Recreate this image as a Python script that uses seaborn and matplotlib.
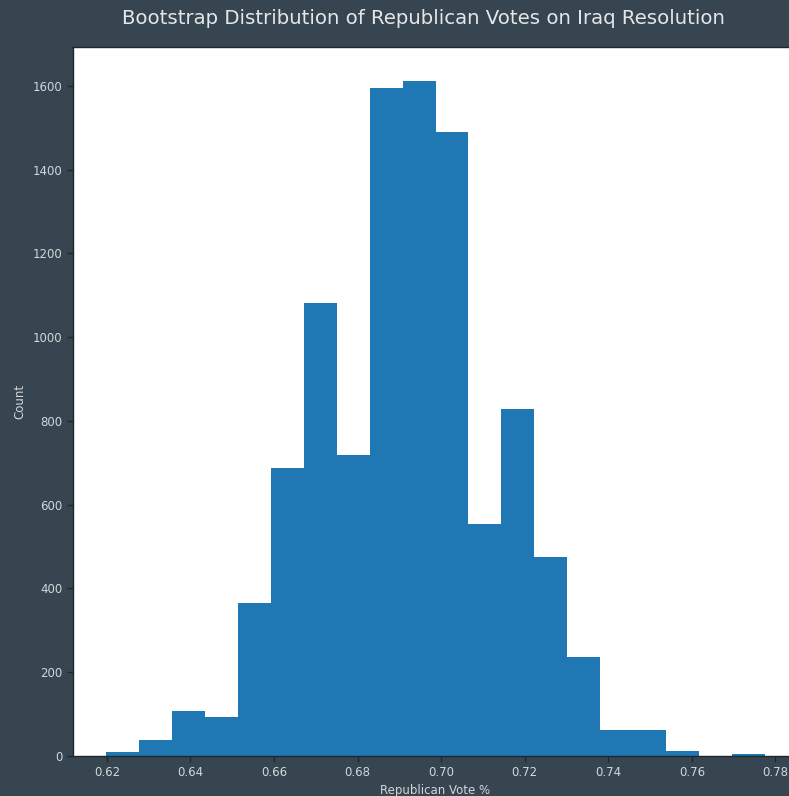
import matplotlib
matplotlib.use("Agg")
import matplotlib.pyplot as plt
import seaborn as sns
import pandas as pd

# Bootstrap resamples of the Republican "yes" share, summarised per bin
vote_share = [0.6237, 0.6316, 0.6395, 0.6474, 0.6553, 0.6632, 0.6711, 0.6789,
              0.6868, 0.6947, 0.7026, 0.7105, 0.7184, 0.7262, 0.7341, 0.7420,
              0.7499, 0.7578, 0.7657, 0.7736]
counts = [10, 39, 107, 93, 365, 687, 1081, 718, 1594, 1612,
          1489, 555, 828, 474, 236, 61, 63, 12, 0, 4]
x_ticks = [0.62, 0.64, 0.66, 0.68, 0.70, 0.72, 0.74, 0.76, 0.78]
y_ticks = [0, 200, 400, 600, 800, 1000, 1200, 1400, 1600]

df = pd.DataFrame({"share": vote_share, "n": counts})

bg = "#36454f"
txt = "#d3d7da"

sns.set_style("white")
plt.rcParams["font.family"] = ["DejaVu Sans"]

fig = plt.figure(figsize=(7.89, 7.96), dpi=100, facecolor=bg)
ax = fig.add_axes([73 / 789, 40 / 796, 725 / 789, 709 / 796])
ax.set_facecolor("white")

sns.histplot(data=df, x="share", weights="n", bins=20,
             binrange=(0.6198, 0.7775), color="#1f77b4", alpha=1.0,
             linewidth=0, ax=ax)

ax.set_xticks(x_ticks)
ax.set_xticklabels([f"{t:.2f}" for t in x_ticks])
ax.set_yticks(y_ticks)
ax.set_xlim(0.6119, 0.7854)
ax.set_ylim(0, 1693)

for s in ax.spines.values():
    s.set_color("#1e272d")
    s.set_linewidth(1.0)
ax.tick_params(axis="both", colors="#1e272d", labelcolor=txt,
               labelsize=8.5, length=4, width=1, direction="out",
               bottom=True, left=True)

ax.set_xlabel("Republican Vote %", color=txt, fontsize=8.5, labelpad=3)
ax.set_ylabel("Count", color=txt, fontsize=8.5, labelpad=5)

fig.text(423.5 / 789, 1 - 19 / 796,
         "Bootstrap Distribution of Republican Votes on Iraq Resolution",
         ha="center", va="center", color="#e4e7e9", fontsize=14.2)

fig.savefig("out.png", dpi=100, facecolor=bg)
